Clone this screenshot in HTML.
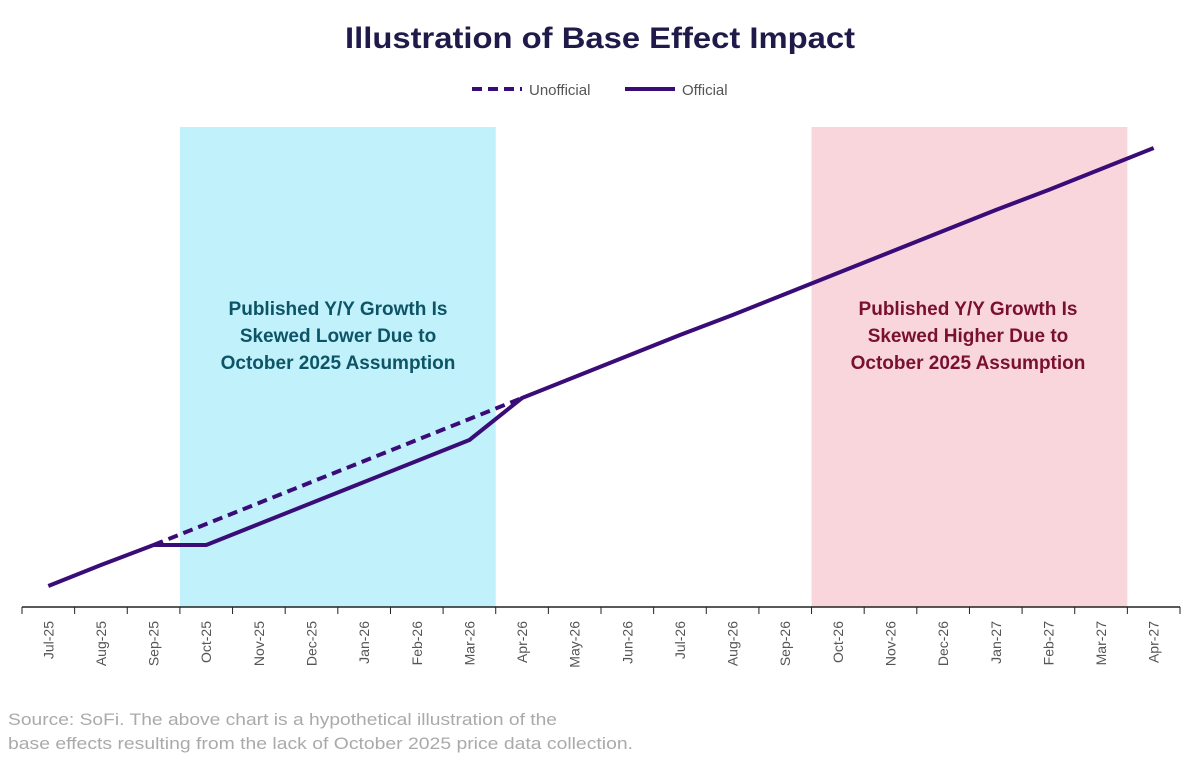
<!DOCTYPE html>
<html><head><meta charset="utf-8"><style>
body{margin:0;background:#fff;width:1200px;height:757px;overflow:hidden;font-family:"Liberation Sans",sans-serif}
</style></head><body>
<svg width="1200" height="757" xmlns="http://www.w3.org/2000/svg">
<text x="600" y="48" text-anchor="middle" font-size="30" font-weight="bold" fill="#201a4a" textLength="510" lengthAdjust="spacingAndGlyphs">Illustration of Base Effect Impact</text>
<g>
<line x1="472" y1="89" x2="522" y2="89" stroke="#3a0c78" stroke-width="4" stroke-dasharray="10,6"/>
<text x="529" y="95" font-size="15" fill="#555">Unofficial</text>
<line x1="625" y1="89" x2="675" y2="89" stroke="#3a0c78" stroke-width="4"/>
<text x="682" y="95" font-size="15" fill="#555">Official</text>
</g>
<g id="bands"></g>
<g id="axis"></g>
<g id="lines"></g>
<text x="338" y="315" text-anchor="middle" font-size="19" font-weight="bold" fill="#0d5566"><tspan x="338">Published Y/Y Growth Is</tspan><tspan x="338" dy="27">Skewed Lower Due to</tspan><tspan x="338" dy="27">October 2025 Assumption</tspan></text>
<text x="968" y="315" text-anchor="middle" font-size="19" font-weight="bold" fill="#7a1030"><tspan x="968">Published Y/Y Growth Is</tspan><tspan x="968" dy="27">Skewed Higher Due to</tspan><tspan x="968" dy="27">October 2025 Assumption</tspan></text>
<g>
<text x="8" y="725" font-size="17" fill="#aaa" textLength="549" lengthAdjust="spacingAndGlyphs">Source: SoFi. The above chart is a hypothetical illustration of the</text>
<text x="8" y="749" font-size="17" fill="#aaa" textLength="625" lengthAdjust="spacingAndGlyphs">base effects resulting from the lack of October 2025 price data collection.</text>
</g>
</svg>
<script>
const months=["Jul-25","Aug-25","Sep-25","Oct-25","Nov-25","Dec-25","Jan-26","Feb-26","Mar-26","Apr-26","May-26","Jun-26","Jul-26","Aug-26","Sep-26","Oct-26","Nov-26","Dec-26","Jan-27","Feb-27","Mar-27","Apr-27"];
const official=[21,42,62,62,83,104,125,146,167,209,230,251,272,292,313,334,355,376,397,417,438,459];
const unofficial=[null,null,62,83,104,125,146,167,188,209];
const blueRange=[3,9];
const pinkRange=[15,21];
const NS="http://www.w3.org/2000/svg";
const x0=22,x1=1180,bw=(x1-x0)/months.length,base=607,plotTop=127;
const xB=i=>x0+bw*i;
const xC=i=>x0+bw*(i+0.5);
const yV=v=>base-v;
function mk(t,a,p){const e=document.createElementNS(NS,t);for(const k in a)e.setAttribute(k,a[k]);p.appendChild(e);return e;}
const bands=document.getElementById('bands');
let r=mk('rect',{x:xB(blueRange[0]),y:plotTop,width:xB(blueRange[1])-xB(blueRange[0]),height:base-plotTop,fill:'#c1f1fb'},bands);


r=mk('rect',{x:xB(pinkRange[0]),y:plotTop,width:xB(pinkRange[1])-xB(pinkRange[0]),height:base-plotTop,fill:'#f8d6dc'},bands);


const ax=document.getElementById('axis');
let l=mk('line',{x1:x0,y1:base,x2:x1,y2:base,stroke:'#222','stroke-width':1.5},ax);


for(let i=0;i<=months.length;i++){
 const t=mk('line',{x1:xB(i),y1:base,x2:xB(i),y2:base+7,stroke:'#222','stroke-width':1},ax);
 
 
}
months.forEach((m,i)=>{
 const t=mk('text',{x:0,y:0,'font-size':14,fill:'#555','text-anchor':'end',transform:`translate(${xC(i)+5},${base+14}) rotate(-90)`},ax);
 t.textContent=m;
 
 
});
const ln=document.getElementById('lines');
const up=unofficial.map((v,i)=>v==null?null:`${xC(i)},${yV(v)}`).filter(s=>s).join(' ');
let p=mk('polyline',{points:up,fill:'none',stroke:'#3a0c78','stroke-width':4,'stroke-dasharray':'10,6'},ln);


p=mk('polyline',{points:official.map((v,i)=>`${xC(i)},${yV(v)}`).join(' '),fill:'none',stroke:'#3a0c78','stroke-width':4,'stroke-linejoin':'round'},ln);


</script>
</body></html>
